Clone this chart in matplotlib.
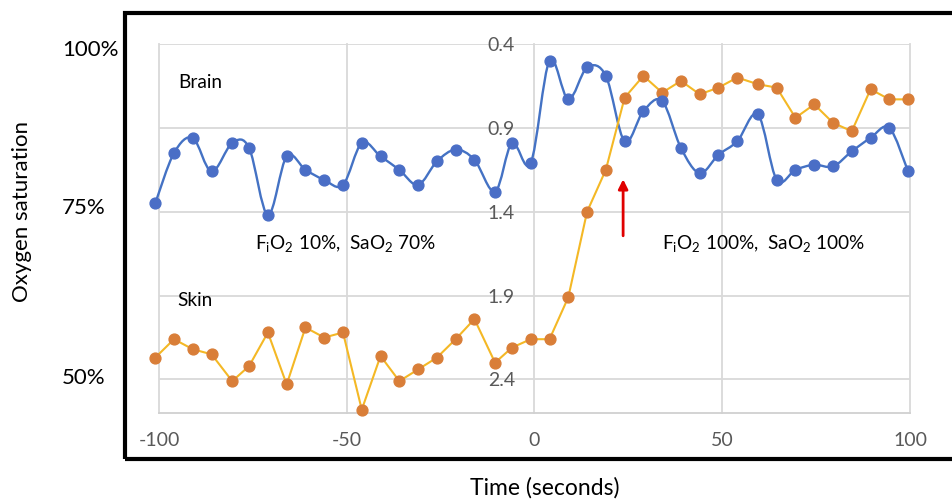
import matplotlib
matplotlib.use('Agg')
import matplotlib.pyplot as plt
from matplotlib.path import Path
from matplotlib.patches import PathPatch, Rectangle

plt.rcParams['font.family'] = ['Lato', 'DejaVu Sans']
plt.rcParams['mathtext.fontset'] = 'custom'
plt.rcParams['mathtext.rm'] = 'Lato'
plt.rcParams['mathtext.it'] = 'Lato:italic'

# time of each sample (seconds)
times = [-101, -96, -91, -86, -80.5, -76, -71, -66, -61, -56, -51, -46, -41, -36, -31, -26, -21, -16, -10.5, -6, -1,
         4, 9, 14, 19, 24, 29, 34, 39, 44, 49, 54, 59.5, 64.5, 69.5, 74.5, 79.5, 84.5, 89.5, 94.5, 99.5]
brain = [1.35, 1.05, 0.96, 1.16, 0.99, 1.02, 1.42, 1.07, 1.15, 1.21, 1.24, 0.99, 1.07, 1.15, 1.24, 1.10, 1.03, 1.09, 1.28, 0.99, 1.11,
         0.50, 0.73, 0.54, 0.59, 0.98, 0.80, 0.74, 1.02, 1.17, 1.06, 0.98, 0.82, 1.21, 1.15, 1.12, 1.13, 1.04, 0.96, 0.90, 1.16]
skin = [2.27, 2.16, 2.22, 2.25, 2.41, 2.32, 2.12, 2.43, 2.09, 2.15, 2.12, 2.58, 2.26, 2.41, 2.34, 2.27, 2.16, 2.04, 2.30, 2.21, 2.16,
        2.16, 1.91, 1.40, 1.15, 0.72, 0.59, 0.69, 0.62, 0.70, 0.66, 0.60, 0.64, 0.66, 0.84, 0.76, 0.87, 0.92, 0.67, 0.73, 0.73]
xticks = [-100, -50, 0, 50, 100]
yticks = [0.4, 0.9, 1.4, 1.9, 2.4]
sat_labels = ['100%', '75%', '50%']

W, H = 953, 499
fig = plt.figure(figsize=(W / 100, H / 100), dpi=100)
ax = fig.add_axes([159 / W, 1 - 413 / H, (910 - 159) / W, (413 - 44) / H])


def smooth_path(xs, ys):
    # excel-like smoothed line: catmull-rom segments as cubic beziers
    pts = list(zip(xs, ys))
    verts = [pts[0]]
    codes = [Path.MOVETO]
    n = len(pts)
    for i in range(n - 1):
        p0 = pts[max(i - 1, 0)]
        p1 = pts[i]
        p2 = pts[i + 1]
        p3 = pts[min(i + 2, n - 1)]
        c1 = (p1[0] + (p2[0] - p0[0]) / 6, p1[1] + (p2[1] - p0[1]) / 6)
        c2 = (p2[0] - (p3[0] - p1[0]) / 6, p2[1] - (p3[1] - p1[1]) / 6)
        verts += [c1, c2, p2]
        codes += [Path.CURVE4] * 3
    return Path(verts, codes)


blue = '#4472C4'
ax.add_patch(PathPatch(smooth_path(times, brain), fill=False, edgecolor=blue, lw=1.7, zorder=2, clip_on=False))
ax.plot(times, skin, color='#F4B825', lw=1.5, zorder=3, clip_on=False)
ax.plot(times, skin, 'o', color='#D97E38', ms=7.8, zorder=4, clip_on=False)
ax.plot(times, brain, 'o', color='#4A6EC6', ms=7.8, zorder=5, clip_on=False)

ax.set_xlim(-100, 100)
ax.set_ylim(2.6, 0.4)
ax.set_xticks(xticks)
ax.set_yticks(yticks)
ax.set_xticklabels([str(t) for t in xticks])
ax.set_yticklabels([f'{t:.1f}' for t in yticks])
ax.grid(True, color='#D9D9D9', lw=1.3)
for gl in ax.get_xgridlines() + ax.get_ygridlines():
    gl.set_clip_on(False)
ax.set_axisbelow(True)
for s in ['top', 'right', 'left']:
    ax.spines[s].set_visible(False)
ax.spines['left'].set_position(('data', 0))
ax.spines['bottom'].set_color('#D0D0D0')
ax.spines['bottom'].set_linewidth(1.3)
ax.tick_params(axis='x', length=0, pad=14, labelsize=14, labelcolor='#595959')
ax.tick_params(axis='y', length=0, pad=14, labelsize=14, labelcolor='#595959')

ax.annotate('', xy=(23.6, 1.19), xytext=(23.6, 1.56),
            arrowprops=dict(arrowstyle='-|>', color='#E00000', lw=2, mutation_scale=14))

fs = 13.7
ax.text(-95, 0.63, 'Brain', fontsize=fs, va='center')
ax.text(-95, 1.93, 'Skin', fontsize=fs, va='center')
ax.text(-74.5, 1.59, r'F$_\mathrm{i}$O$_2$ 10%,  SaO$_2$ 70%', fontsize=fs, va='center')
ax.text(34, 1.59, r'F$_\mathrm{i}$O$_2$ 100%,  SaO$_2$ 100%', fontsize=fs, va='center')

for lab, py in zip(sat_labels, [50, 208, 378]):
    fig.text(62 / W, 1 - py / H, lab, fontsize=16, va='center', ha='left')
fig.text(22 / W, 1 - 211 / H, 'Oxygen saturation', fontsize=16, rotation=90, va='center', ha='center')
fig.text(545 / W, 1 - 488 / H, 'Time (seconds)', fontsize=16.5, va='center', ha='center')

fig.patches.append(Rectangle((125.5 / W, 1 - 458.5 / H), 1.0, (458.5 - 12.5) / H,
                             transform=fig.transFigure, fill=False, edgecolor='black', lw=3, clip_on=False))

fig.savefig('out.png', dpi=100)
